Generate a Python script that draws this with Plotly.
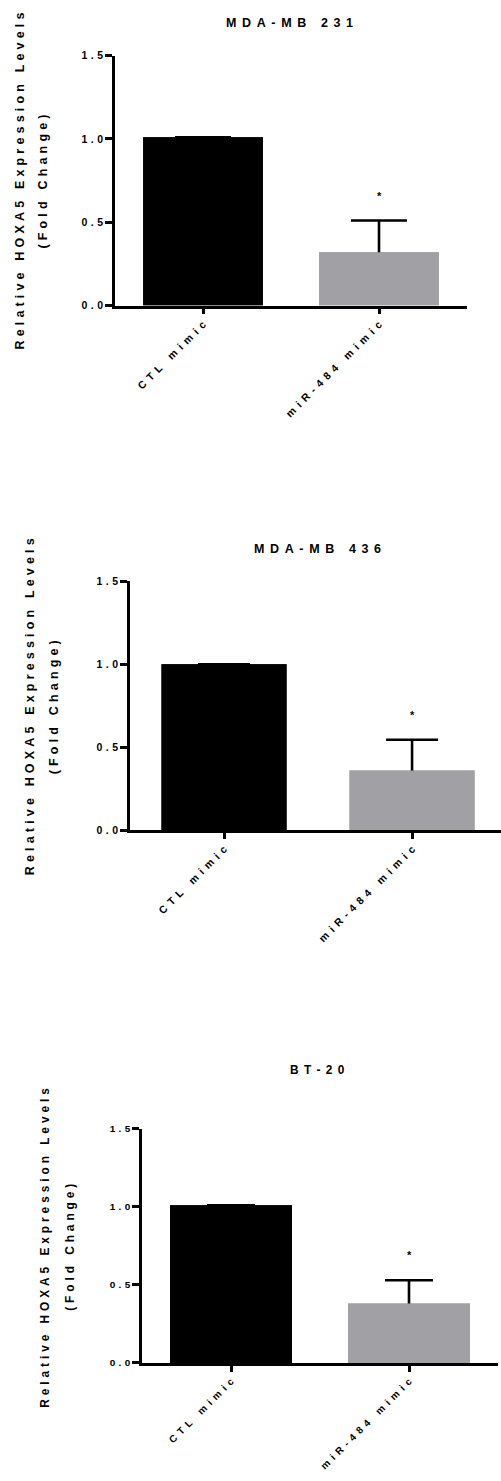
import plotly.graph_objects as go

# Figure size in pixels
W, H = 501, 1481

# ---- data ----
categories = ["CTL mimic", "miR-484 mimic"]
panel_titles = ["MDA-MB 231", "MDA-MB 436", "BT-20"]
mean_231 = [1.01, 0.32]
sem_231 = [0.0, 0.19]
mean_436 = [1.00, 0.36]
sem_436 = [0.0, 0.185]
mean_bt20 = [1.01, 0.38]
sem_bt20 = [0.0, 0.15]
significance = ["", "*"]
y_ticks = [0.0, 0.5, 1.0, 1.5]
y_title = "Relative HOXA5 Expression Levels"
y_subtitle = "(Fold Change)"
bar_colors = ["#000000", "#a1a1a5"]

means = [mean_231, mean_436, mean_bt20]
sems = [sem_231, sem_436, sem_bt20]

# ---- layout of each panel, in pixels ----
boxes = [
    dict(l=115, r=467, t=50, b=302, xr=1.5, bw=0.68, cap=28,
         title=(289, 17), ytx=(20, 43), yty=177, fs=1.0),
    dict(l=130, r=501, t=580, b=831, xr=1.473, bw=0.665, cap=26,
         title=(317, 547), ytx=(30, 54), yty=707, fs=1.0),
    dict(l=142, r=498, t=1132, b=1368, xr=1.5, bw=0.685, cap=24,
         title=(317, 1073), ytx=(45, 70), yty=1252, fs=0.95),
]

FONT = "Liberation Sans, Arial, sans-serif"


def spaced(text, gap, word_gap=" "):
    """Widen text by putting a fixed gap between every character."""
    return gap.join(word_gap if c == " " else c for c in text)


def px_x(x):
    return x / W


def px_y(y):
    return 1 - y / H


TITLE_GAP = "\u2005\u2009"      # ~0.45 em
YTITLE_GAP = "\u2004"           # ~0.33 em
YTICK_GAP = "\u2004"
XTICK_GAP = "\u2005\u2009"

fig = go.Figure()
annotations = []

for i, (box, m, s) in enumerate(zip(boxes, means, sems)):
    n = "" if i == 0 else str(i + 1)
    xa, ya = "x" + n, "y" + n
    k = box["fs"]
    # bar with error bars underneath
    fig.add_trace(go.Bar(
        x=categories, y=m, xaxis=xa, yaxis=ya, width=box["bw"],
        marker=dict(color=bar_colors, line=dict(width=0)),
        error_y=dict(type="data", array=s, symmetric=True, color="#000000",
                     thickness=2.6, width=box["cap"]),
        showlegend=False, hoverinfo="skip",
    ))
    # same bars on top, so only the upper half of each error bar shows
    fig.add_trace(go.Bar(
        x=categories, y=m, xaxis=xa, yaxis=ya, width=box["bw"],
        marker=dict(color=bar_colors, line=dict(width=0)),
        showlegend=False, hoverinfo="skip",
    ))

    fig.layout["xaxis" + n] = dict(
        domain=[px_x(box["l"]), px_x(box["r"])],
        anchor=ya, type="category", range=[-0.5, box["xr"]],
        showline=True, linecolor="#000000", linewidth=2.6,
        ticks="outside", ticklen=6, tickwidth=2.6, tickcolor="#000000",
        tickmode="array", tickvals=categories,
        ticktext=[spaced(c, XTICK_GAP) for c in categories],
        tickangle=-45, showgrid=False, zeroline=False, fixedrange=True,
        tickfont=dict(family=FONT, size=10.5 * k, color="#000000", weight="bold"),
    )
    fig.layout["yaxis" + n] = dict(
        domain=[px_y(box["b"]), px_y(box["t"])],
        anchor=xa, range=[0, 1.5],
        showline=True, linecolor="#000000", linewidth=2.6,
        ticks="outside", ticklen=7, tickwidth=2.6, tickcolor="#000000",
        tickmode="array", tickvals=y_ticks,
        ticktext=[spaced(f"{v:.1f}", YTICK_GAP) for v in y_ticks],
        showgrid=False, zeroline=False, fixedrange=True,
        tickfont=dict(family=FONT, size=10.5 * k, color="#000000", weight="bold"),
    )

    # panel title
    annotations.append(dict(
        text=spaced(panel_titles[i], TITLE_GAP),
        xref="paper", yref="paper",
        x=px_x(box["title"][0]), y=px_y(box["title"][1]),
        xanchor="center", yanchor="middle", showarrow=False,
        font=dict(family=FONT, size=12.5 * k, color="#000000", weight="bold"),
    ))
    # two-line y-axis title
    for tx, txt in zip(box["ytx"], [y_title, y_subtitle]):
        annotations.append(dict(
            text=spaced(txt, YTITLE_GAP),
            xref="paper", yref="paper",
            x=px_x(tx), y=px_y(box["yty"]), textangle=-90,
            xanchor="center", yanchor="middle", showarrow=False,
            font=dict(family=FONT, size=12.5 * k, color="#000000", weight="bold"),
        ))
    # significance marks above the error bars
    for c, mv, sv, mark in zip(categories, m, s, significance):
        if mark:
            annotations.append(dict(
                text=mark, xref=xa, yref=ya, x=c, y=mv + sv, yshift=25,
                xanchor="center", yanchor="middle", showarrow=False,
                font=dict(family=FONT, size=11, color="#000000", weight="bold"),
            ))

fig.update_layout(
    width=W, height=H, margin=dict(l=0, r=0, t=0, b=0),
    paper_bgcolor="#ffffff", plot_bgcolor="#ffffff",
    barmode="overlay", annotations=annotations, showlegend=False,
)

fig.write_html("out.html")
